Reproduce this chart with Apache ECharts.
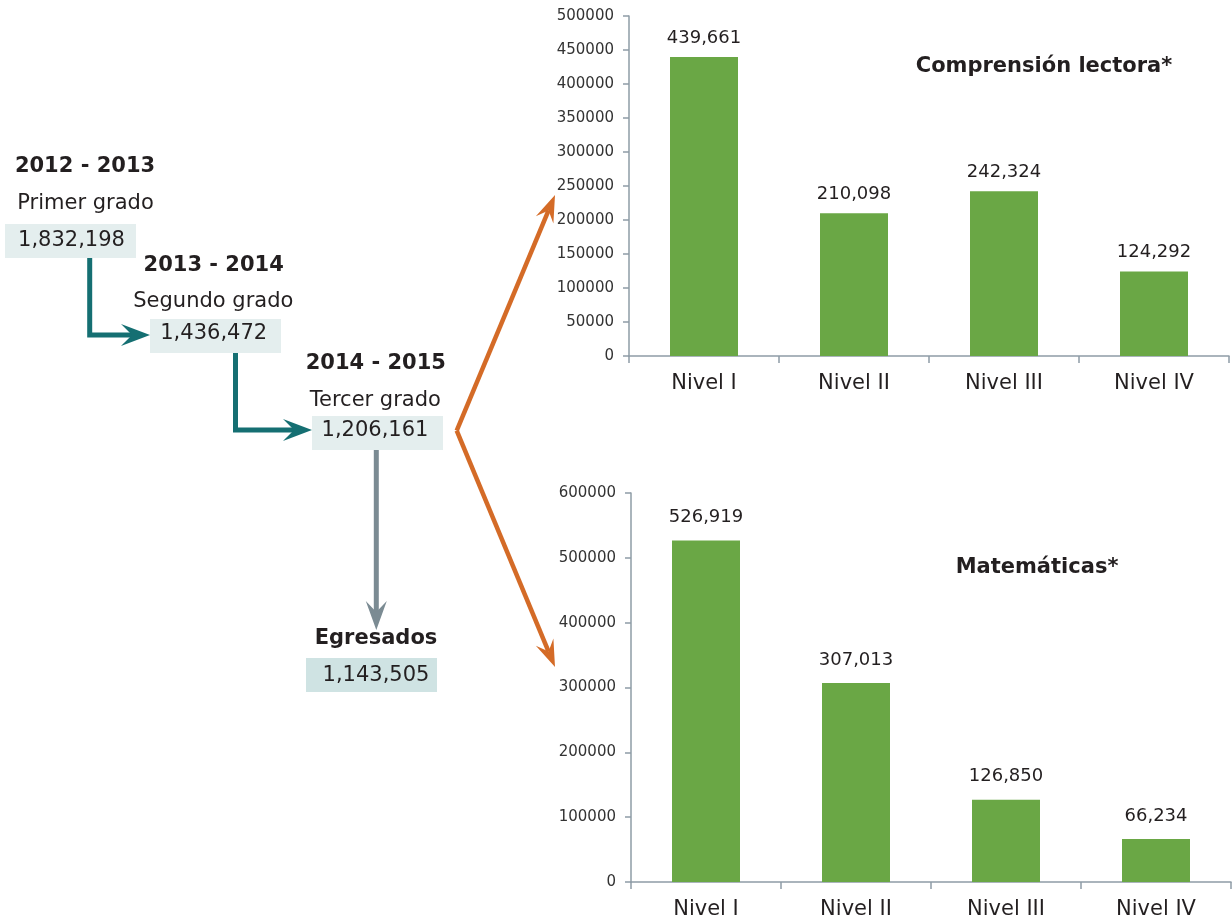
<!DOCTYPE html>
<html><head><meta charset="utf-8">
<script src="https://cdn.jsdelivr.net/npm/echarts@6/dist/echarts.min.js"></script>
<style>html,body{margin:0;padding:0;background:#fff}#c{width:1232px;height:924px}</style>
</head><body><div id="c"></div>
<script>
const categories = ['Nivel I', 'Nivel II', 'Nivel III', 'Nivel IV'];
const lecturaValues = [439661, 210098, 242324, 124292];
const matematicasValues = [526919, 307013, 126850, 66234];
const lecturaTitle = 'Comprensión lectora*';
const matematicasTitle = 'Matemáticas*';
const lecturaTicks = { max: 500000, interval: 50000 };
const matematicasTicks = { max: 600000, interval: 100000 };
const flowYears = ['2012 - 2013', '2013 - 2014', '2014 - 2015'];
const flowGrades = ['Primer grado', 'Segundo grado', 'Tercer grado'];
const flowValues = [1832198, 1436472, 1206161];
const egresadosLabel = 'Egresados';
const egresadosValue = 1143505;

const FONT = "'DejaVu Sans', Verdana, sans-serif";
const TXT = '#231f20';
const AXIS = '#8e9ca6';
const GREEN = '#6aa745';
const TEAL = '#156f72';
const GREY = '#7b8b93';
const ORANGE = '#d46b27';

function fmt(n) { return String(n).replace(/\B(?=(\d{3})+(?!\d))/g, ','); }

const chart = echarts.init(document.getElementById('c'), null, { renderer: 'canvas' });

function xAx(gi) {
  return {
    type: 'category', gridIndex: gi, data: categories,
    axisLine: { lineStyle: { color: AXIS, width: 1.5 } },
    axisTick: { show: true, length: 7, lineStyle: { color: AXIS, width: 1.5 } },
    axisLabel: { color: TXT, fontSize: 21, fontFamily: FONT, margin: 17 }
  };
}
function yAx(gi, t) {
  return {
    type: 'value', gridIndex: gi, min: 0, max: t.max, interval: t.interval,
    axisLine: { show: true, lineStyle: { color: AXIS, width: 1.5 } },
    axisTick: { show: true, length: 6, lineStyle: { color: AXIS, width: 1.5 } },
    axisLabel: { color: '#333', fontSize: 15, fontFamily: FONT, margin: 15, formatter: v => String(v) },
    splitLine: { show: false }
  };
}
function barSeries(gi, vals, dist) {
  return {
    type: 'bar', xAxisIndex: gi, yAxisIndex: gi, data: vals, barWidth: 68,
    itemStyle: { color: GREEN },
    label: { show: true, position: 'top', distance: dist, color: TXT, fontSize: 18, fontFamily: FONT,
      formatter: p => fmt(p.value) },
    silent: true, animation: false
  };
}

// flow diagram helpers
function txt(x, y, s, size, bold, align) {
  return { type: 'text', z: 10, style: { x, y, text: s, fill: TXT, align: align || 'center', verticalAlign: 'middle',
    font: (bold ? 'bold ' : '') + size + 'px ' + FONT } };
}
function box(x, y, w, h, color) {
  return { type: 'rect', z: 5, shape: { x, y, width: w, height: h }, style: { fill: color } };
}
function arrow(pts, color, lw, headLen, hw) {
  const n = pts.length;
  const [x1, y1] = pts[n - 2], [x2, y2] = pts[n - 1];
  const L = Math.hypot(x2 - x1, y2 - y1);
  const dx = (x2 - x1) / L, dy = (y2 - y1) / L;
  const px = -dy, py = dx;
  const notch = 0.62 * headLen;
  const linePts = pts.slice(0, n - 1).concat([[x2 - dx * notch, y2 - dy * notch]]);
  const bx = x2 - dx * headLen, by = y2 - dy * headLen;
  return [
    { type: 'polyline', z: 6, shape: { points: linePts }, style: { stroke: color, lineWidth: lw, fill: null, lineJoin: 'miter' } },
    { type: 'polygon', z: 7, shape: { points: [[x2, y2], [bx + px * hw, by + py * hw], [x2 - dx * notch, y2 - dy * notch], [bx - px * hw, by - py * hw]] },
      style: { fill: color } }
  ];
}

const graphics = [];
// boxes
graphics.push(box(5, 224, 131, 34, '#e4eeee'));
graphics.push(box(150, 319, 131, 34, '#e4eeee'));
graphics.push(box(312, 416, 131, 34, '#e4eeee'));
graphics.push(box(306, 658, 131, 34, '#cfe3e3'));
// texts
graphics.push(txt(85, 167, flowYears[0], 21, true));
graphics.push(txt(85.5, 204, flowGrades[0], 21, false));
graphics.push(txt(71.5, 241, fmt(flowValues[0]), 21, false));
graphics.push(txt(213.7, 266, flowYears[1], 21, true));
graphics.push(txt(213.3, 301.5, flowGrades[1], 21, false));
graphics.push(txt(213.7, 334, fmt(flowValues[1]), 21, false));
graphics.push(txt(375.8, 364, flowYears[2], 21, true));
graphics.push(txt(375.3, 400.5, flowGrades[2], 21, false));
graphics.push(txt(375, 431, fmt(flowValues[2]), 21, false));
graphics.push(txt(376, 639, egresadosLabel, 21, true));
graphics.push(txt(376, 676, fmt(egresadosValue), 21, false));
// arrows
graphics.push(...arrow([[89.7, 258], [89.7, 335], [150, 335]], TEAL, 5, 29, 11));
graphics.push(...arrow([[235.5, 353], [235.5, 430], [312, 430]], TEAL, 5, 29, 11));
graphics.push(...arrow([[376.3, 450], [376.3, 630]], GREY, 5, 29, 10.5));
graphics.push(...arrow([[456.7, 430.7], [555, 195]], ORANGE, 4.5, 27, 9.5));
graphics.push(...arrow([[456.7, 430.7], [555, 667]], ORANGE, 4.5, 27, 9.5));
// chart titles
graphics.push(txt(1044, 67, lecturaTitle, 21, true));
graphics.push(txt(1037, 568, matematicasTitle, 21, true));

chart.setOption({
  animation: false,
  backgroundColor: '#fff',
  textStyle: { fontFamily: FONT },
  grid: [
    { left: 629, top: 16, width: 600, height: 340 },
    { left: 631, top: 493, width: 600, height: 389 }
  ],
  xAxis: [xAx(0), xAx(1)],
  yAxis: [yAx(0, lecturaTicks), yAx(1, matematicasTicks)],
  series: [barSeries(0, lecturaValues, 10), barSeries(1, matematicasValues, 14)],
  graphic: graphics
});
</script></body></html>
